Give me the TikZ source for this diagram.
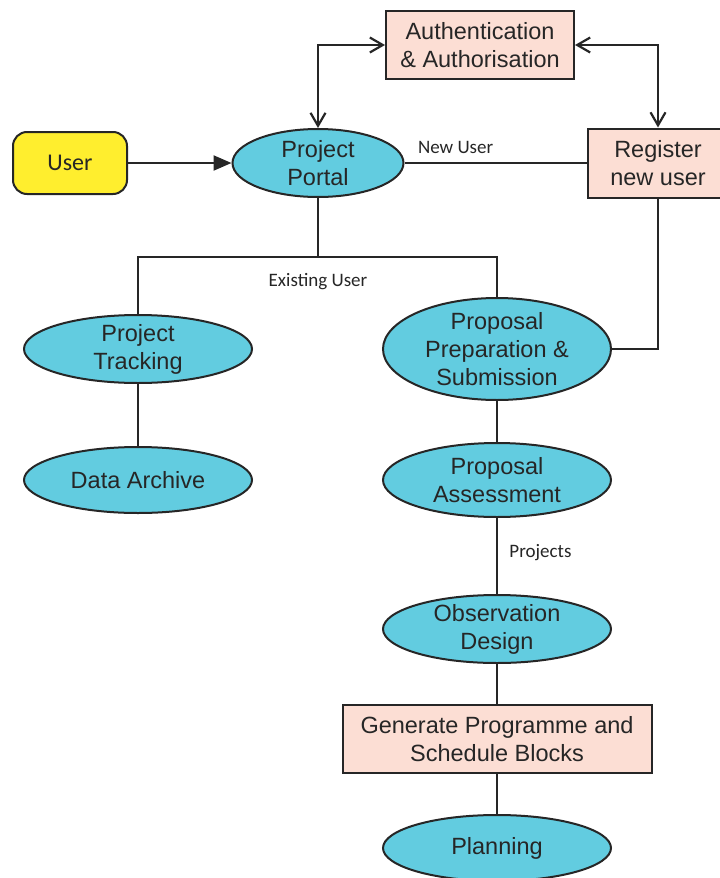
\documentclass[tikz,border=0pt]{standalone}
\usepackage{fontspec}
\setmainfont{Liberation Sans}
\newfontfamily\calibrifont{Carlito}
\usetikzlibrary{
  shapes.geometric,
  arrows.meta,
}
\definecolor{portalcyan}{HTML}{62CCE0}
\definecolor{boxpink}{HTML}{FCDED4}
\definecolor{useryellow}{HTML}{FFEE2E}
\definecolor{edgegrey}{HTML}{262626}
\tikzset{
  >={Straight Barb[length=13pt,width=15pt]},
  link/.style={
    line width=2.2pt,
    draw=edgegrey,
  },
  node/.style={
    draw=edgegrey,
    line width=2pt,
    align=center,
    text=black!85,
    font=\fontsize{23.5}{28}\selectfont,
  },
  process/.style={
    node,
    ellipse,
    fill=portalcyan,
    minimum width=228pt,
    minimum height=68pt,
    inner xsep=0pt,
    inner ysep=-4pt,
  },
  action/.style={
    node,
    rectangle,
    fill=boxpink,
    inner sep=0pt,
  },
  actor/.style={
    node,
    rounded corners=14pt,
    fill=useryellow,
    minimum width=114pt,
    minimum height=62pt,
    font=\calibrifont\fontsize{24}{28}\selectfont,
  },
  note/.style={
    text=black!85,
    font=\calibrifont\fontsize{19}{22}\selectfont,
  },
}

\begin{document}
\begin{tikzpicture}[x=1pt, y=-1pt]
  \useasboundingbox (0,0) rectangle (720,878);

  % nodes
  \node[actor] (user) at (70,163) {User};
  \node[process, minimum width=171pt] (portal) at (318,163) {Project\\Portal};
  \node[action, minimum width=188pt, minimum height=68pt] (auth) at (480,45)
    {Authentication\\\& Authorisation};
  \node[action, minimum width=140pt, minimum height=69pt] (register) at (658,163)
    {Register\\new user};
  \node[process] (track) at (138,349) {Project\\Tracking};
  \node[process, minimum height=66pt] (archive) at (138,480) {Data Archive};
  \node[process, minimum height=102pt] (prep) at (497,349)
    {Proposal\\Preparation \&\\Submission};
  \node[process, minimum height=74pt] (assess) at (497,480) {Proposal\\Assessment};
  \node[process] (obs) at (497,629) {Observation\\Design};
  \node[action, minimum width=309pt, minimum height=68pt] (gen) at (497,739)
    {Generate Programme and\\Schedule Blocks};
  \node[process, minimum height=66pt] (plan) at (497,848) {Planning};
  \coordinate (split) at (318,257);
  \node[note] (existing) at (318,282) {Existing User};

  % connectors
  \draw[link, -{Triangle[length=18pt,width=15pt]}] (user) -- (portal);
  \draw[link, <->] (portal.north) |- (auth.west);
  \draw[link, <->] (auth.east) -| (register.north);
  \draw[link] (portal) -- node[note, pos=0.28, above=5pt] {New User} (register);
  \draw[link] (portal) -- (split);
  \draw[link] (track.north) |- (split) -| (prep.north);
  \draw[link] (register.south) |- (prep.east);
  \draw[link] (track) -- (archive);
  \draw[link] (prep) -- (assess);
  \draw[link] (assess) -- node[note, pos=0.45, right=8pt] {Projects} (obs);
  \draw[link] (obs) -- (gen);
  \draw[link] (gen) -- (plan);
\end{tikzpicture}
\end{document}
